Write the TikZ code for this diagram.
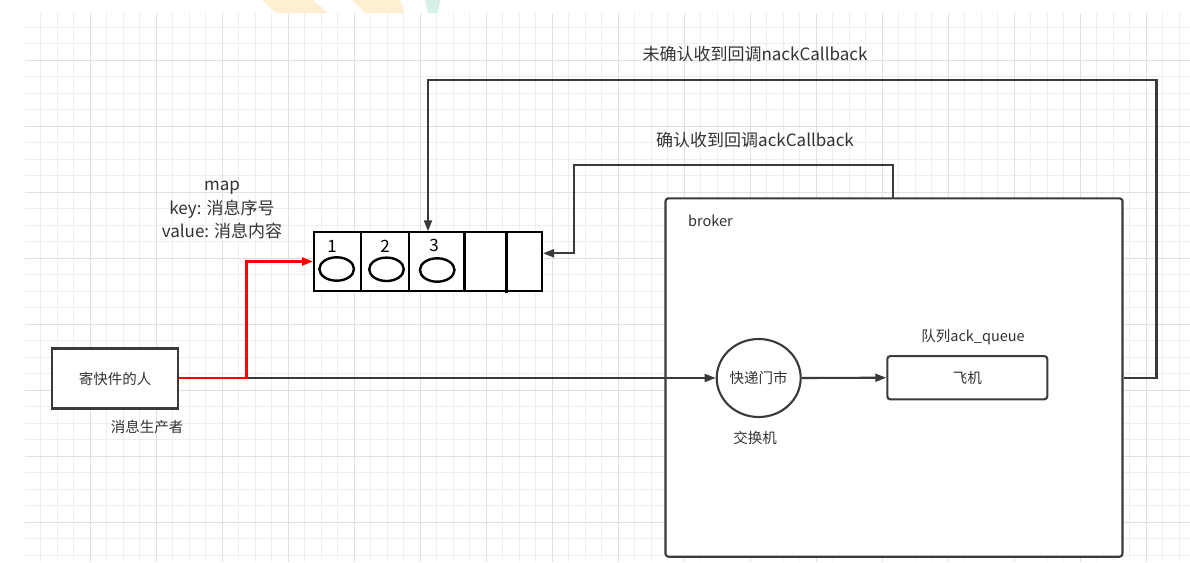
\documentclass[tikz,border=0pt]{standalone}
\usepackage{fontspec}
\setmainfont{Noto Sans CJK SC}
\usetikzlibrary{arrows.meta,shapes.geometric}
\definecolor{ln}{HTML}{3A3A3A}
\definecolor{tx}{HTML}{333333}
\definecolor{gmin}{HTML}{EEEEEE}
\definecolor{gmaj}{HTML}{E0E0E0}
\definecolor{wmy}{HTML}{FDEFCF}
\definecolor{wmt}{HTML}{D5EFE9}
\tikzset{
  arr/.style={draw=ln,line width=2.1pt,-{Triangle[length=11pt,width=8pt]}},
  redline/.style={draw=red,line width=2.3pt,-{Triangle[length=11pt,width=8pt]}},
  boxn/.style={draw=ln,line width=2.1pt,fill=white,inner sep=0pt,text=tx,font=\fontsize{14.5}{17}\selectfont},
  lab/.style={text=tx,inner sep=0pt,font=\fontsize{14.5}{17}\selectfont},
  biglab/.style={text=tx,inner sep=0pt,font=\fontsize{17}{21}\selectfont},
  egg/.style={ellipse,draw=black,line width=2.4pt,minimum width=34.6pt,minimum height=23.4pt,inner sep=0pt},
  num/.style={text=black,inner sep=0pt,font=\fontsize{17}{20}\selectfont}
}
\begin{document}
\begin{tikzpicture}[x=1pt,y=-1pt]
\useasboundingbox (0,0) rectangle (1190,562);
\fill[white] (0,0) rectangle (1190,562);
% watermark remnants
\fill[wmy] (262,0) -- (313,0) -- (328,13) -- (276,13) -- cycle;
\fill[wmy] (352,0) -- (399,0) .. controls (402,4) .. (404,13) -- (365,13) -- cycle;
\fill[wmt] (425,0) -- (440,0) -- (438,13) -- (428,13) -- cycle;
% grid
\begin{scope}
\clip (25,13) rectangle (1190,562);
\foreach \k in {0,...,71} {\draw[gmin,line width=1pt] ({24.3+16.5*\k},13) -- ({24.3+16.5*\k},562);}
\foreach \k in {0,...,33} {\draw[gmin,line width=1pt] (25,{10.8+16.5*\k}) -- (1190,{10.8+16.5*\k});}
\foreach \k in {0,4,...,68} {\draw[gmaj,line width=1.1pt] ({24.3+16.5*\k},13) -- ({24.3+16.5*\k},562);}
\foreach \k in {3,7,...,31} {\draw[gmaj,line width=1.1pt] (25,{10.8+16.5*\k}) -- (1190,{10.8+16.5*\k});}
\end{scope}
% nodes
\node[boxn,minimum width=126pt,minimum height=60pt] (prod) at (115,378.5) {寄快件的人};
\node[lab] (prodlab) at (147,426.5) {消息生产者};
\node[draw=black,line width=2pt,fill=white,minimum width=228pt,minimum height=58.4pt,inner sep=0pt] (q) at (428,261.5) {};
\draw[black,line width=2pt] (361,232.3) -- (361,290.7);
\draw[black,line width=2pt] (409.3,232.3) -- (409.3,290.7);
\draw[black,line width=2.6pt] (464.5,232.3) -- (464.5,290.7);
\draw[black,line width=2.6pt] (506.7,232.3) -- (506.7,293);
\node[num] (n1) at (332,246) {1};
\node[num] (n2) at (385,246) {2};
\node[num] (n3) at (434,245) {3};
\node[egg] (e1) at (336.7,269) {};
\node[egg] (e2) at (386.5,269.3) {};
\node[egg] (e3) at (437.2,270) {};
\node[biglab] (m1) at (222,187.3) {map};
\node[biglab] (m2) at (222,209.3) {key: 消息序号};
\node[biglab] (m3) at (222,231) {value: 消息内容};
\node[draw=ln,line width=2.1pt,fill=white,rounded corners=3pt,minimum width=457pt,minimum height=358.4pt,inner sep=0pt] (broker) at (894,377.5) {};
\node[lab,anchor=west] (brlab) at (688,220.5) {broker};
\node[boxn,ellipse,minimum width=84pt,minimum height=78pt] (ex) at (758.7,378) {快递门市};
\node[lab] (exlab) at (755,438) {交换机};
\node[boxn,rounded corners=3pt,minimum width=160pt,minimum height=43.3pt] (aq) at (967.3,377.7) {飞机};
\node[lab] (aqlab) at (973,337.5) {队列ack\_queue};
\node[biglab] (nacklab) at (755,54.5) {未确认收到回调nackCallback};
\node[biglab] (acklab) at (755,140) {确认收到回调ackCallback};
% connectors
\coordinate (rj) at (246.5,378);
\coordinate (nk) at (1156.5,80);
\coordinate (ak) at (574,165);
\coordinate (bt) at (893,198.3);
\draw[arr] (rj) -- (ex.west);
\draw[redline] (prod.east |- rj) -- (rj) |- (q.west);
\draw[arr] (ex.east) -- (aq.west);
\draw[arr] (broker.east |- aq.east) -- (nk |- aq.east) -- (nk) -| (q.north);
\draw[arr] (bt) |- (ak) |- ([yshift=8.2pt]q.east);
\end{tikzpicture}
\end{document}
